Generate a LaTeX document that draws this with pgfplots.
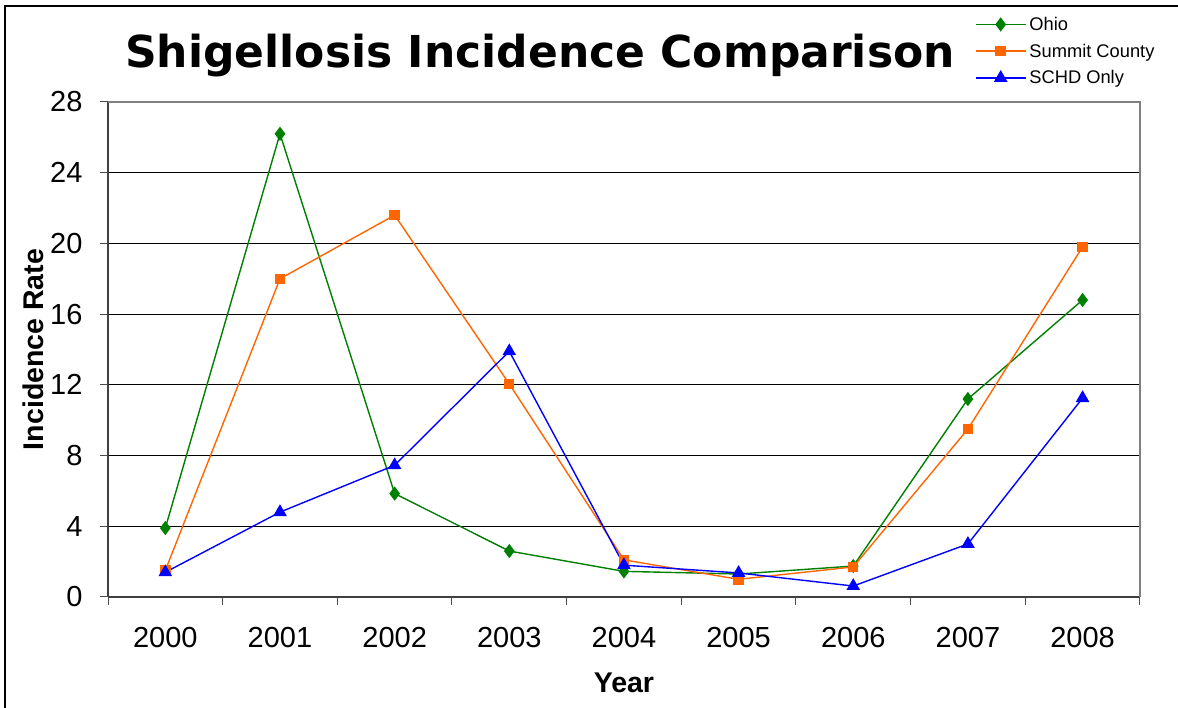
\documentclass[border=0pt]{standalone}
\usepackage{pgfplots}
\pgfplotsset{compat=1.18}
\usepackage{fontspec}
\setmainfont{Liberation Sans}
\newfontfamily\titlefont{DejaVu Sans}
\definecolor{ohio}{HTML}{008000}
\definecolor{summit}{HTML}{FF6600}
\definecolor{schd}{HTML}{0000FF}
\begin{document}
\begin{tikzpicture}
\useasboundingbox (0pt,0pt) rectangle (1178pt,708pt);
\draw[line width=1.5pt] (5pt,0pt) -- (5pt,702pt) -- (1178pt,702pt);
\begin{axis}[
  at={(108pt,111pt)}, anchor=south west,
  scale only axis, width=1032pt, height=495pt,
  xmin=-0.5, xmax=8.5, ymin=0, ymax=28,
  ytick={0,4,...,28},
  xtick={-0.5,0.5,...,8.5}, xticklabels={},
  extra x ticks={0,1,2,3,4,5,6,7,8},
  extra x tick labels={2000,2001,2002,2003,2004,2005,2006,2007,2008},
  extra x tick style={major tick length=0pt, grid=none},
  tick align=outside, major tick length=8pt,
  tick style={draw=black!70, line width=1pt},
  ymajorgrids, grid style={black, line width=0.8pt},
  separate axis lines, axis x line*=bottom, axis y line*=left,
  axis line style={draw=black!75, line width=1.2pt, -},
  every tick label/.append style={font=\fontsize{29}{33}\selectfont},
  /pgf/number format/assume math mode=true,
  yticklabel style={xshift=-14pt},
  xticklabel style={yshift=-27pt},
  xlabel={\bfseries Year}, ylabel={\bfseries Incidence Rate},
  label style={font=\fontsize{28.5}{32}\selectfont},
  xlabel style={yshift=-10pt},
  ylabel style={yshift=0pt},
  clip=false,
  legend style={at={(0.840,1.172)}, anchor=north west, draw=none, fill=none,
    font=\fontsize{18.3}{21}\selectfont, row sep=12pt, inner sep=0pt,
    nodes={inner sep=0pt, inner xsep=3pt}},
  legend cell align=left,
  legend image code/.code={\draw[mark repeat=2,mark phase=2,#1,line width=1.4pt] plot coordinates {(0pt,0pt) (25pt,0pt) (50pt,0pt)};},
]
\draw[black!50, line width=1.2pt] (rel axis cs:0,1) -- (rel axis cs:1,1) -- (rel axis cs:1,0);
\addplot[ohio, line width=1.4pt, mark=diamond*, mark size=6pt, mark options={fill=ohio}]
  coordinates {(0,3.9) (1,26.2) (2,5.85) (3,2.6) (4,1.45) (5,1.3) (6,1.75) (7,11.2) (8,16.8)};
\addlegendentry{Ohio}
\addplot[summit, line width=1.4pt, mark=square*, mark size=4.5pt, mark options={fill=summit}]
  coordinates {(0,1.5) (1,18.0) (2,21.6) (3,12.05) (4,2.1) (5,1.0) (6,1.7) (7,9.5) (8,19.8)};
\addlegendentry{Summit County}
\addplot[schd, line width=1.4pt, mark=triangle*, mark size=6.5pt, mark options={fill=schd}]
  coordinates {(0,1.4) (1,4.8) (2,7.45) (3,13.9) (4,1.8) (5,1.36) (6,0.62) (7,3.0) (8,11.25)};
\addlegendentry{SCHD Only}
\end{axis}
\node[font=\titlefont\bfseries\fontsize{44}{50}\selectfont, anchor=center] at (540pt,652pt) {Shigellosis Incidence Comparison};
\end{tikzpicture}
\end{document}
